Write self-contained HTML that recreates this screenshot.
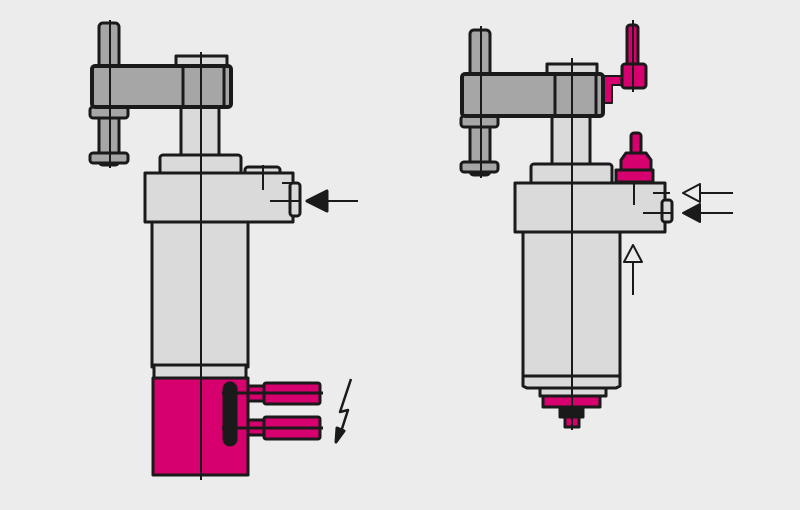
<!DOCTYPE html>
<html><head><style>html,body{margin:0;padding:0;background:#ececec}</style></head><body>
<svg width="800" height="505" viewBox="0 0 800 505" xmlns="http://www.w3.org/2000/svg">
<rect width="800" height="505" fill="#ececec"/>
<g stroke="#1a1a1a" stroke-width="3" stroke-linejoin="round">
<!-- LEFT FIGURE -->
<rect x="99" y="23" width="20" height="142" rx="4" fill="#a6a6a6"/>
<rect x="90" y="107" width="38" height="11" rx="3" fill="#a6a6a6"/>
<rect x="90" y="153" width="38" height="10" rx="3" fill="#a6a6a6"/>
<rect x="181" y="105" width="38" height="52" fill="#dadada"/>
<rect x="176" y="56" width="51" height="12" fill="#dadada"/>
<rect x="92" y="66" width="139" height="41" rx="3" fill="#a6a6a6" stroke-width="4"/>
<line x1="183" y1="66" x2="183" y2="107"/><line x1="224" y1="66" x2="224" y2="107"/>
<rect x="160" y="155" width="81" height="20" rx="3" fill="#dadada"/>
<rect x="245" y="167" width="35" height="8" rx="3" fill="#dadada"/>
<rect x="145" y="173" width="148" height="49" fill="#dadada"/>
<rect x="290" y="183" width="10" height="33" rx="3" fill="#dadada"/>
<rect x="152" y="222" width="96" height="145" fill="#dadada"/>
<rect x="154" y="365" width="92" height="13" fill="#dadada"/>
<rect x="153" y="378" width="95" height="97" fill="#d6006f"/>
<rect x="248" y="386" width="20" height="15" fill="#d6006f"/>
<rect x="264" y="383" width="56" height="21" rx="2" fill="#d6006f"/>
<rect x="248" y="420" width="20" height="15" fill="#d6006f"/>
<rect x="264" y="417" width="56" height="22" rx="2" fill="#d6006f"/>
<line x1="222" y1="393" x2="323" y2="393"/><line x1="222" y1="428" x2="323" y2="428"/>
<rect x="224" y="383" width="12" height="62" rx="6" fill="#1a1a1a"/>
<line x1="201" y1="52" x2="201" y2="480" stroke-width="2"/>
<line x1="110" y1="20" x2="110" y2="168" stroke-width="2"/>
<line x1="263" y1="165" x2="263" y2="190" stroke-width="2"/>
<line x1="270" y1="201" x2="300" y2="201" stroke-width="2"/>
<line x1="282" y1="183" x2="298" y2="183" stroke-width="2"/>
<line x1="327" y1="201" x2="358" y2="201" stroke-width="2"/>
<polygon points="307,201 327,191 327,211" fill="#1a1a1a"/>
<polyline points="351,379 340,412 348,410 339,438" fill="none" stroke-width="2.5"/>
<polygon points="336,442 337,428 344,431" fill="#1a1a1a"/>
<!-- RIGHT FIGURE -->
<rect x="470" y="30" width="20" height="145" rx="4" fill="#a6a6a6"/>
<rect x="461" y="116" width="37" height="11" rx="3" fill="#a6a6a6"/>
<rect x="461" y="162" width="37" height="10" rx="3" fill="#a6a6a6"/>
<rect x="552" y="114" width="38" height="52" fill="#dadada"/>
<rect x="547" y="64" width="50" height="12" fill="#dadada"/>
<path d="M600,76 H640 V85 H612 V103 H600 Z" fill="#d6006f" stroke-width="2"/>
<rect x="627" y="25" width="11" height="45" rx="3" fill="#d6006f"/>
<rect x="622" y="64" width="24" height="24" rx="3" fill="#d6006f"/>
<rect x="462" y="74" width="141" height="42" rx="3" fill="#a6a6a6" stroke-width="4"/>
<line x1="555" y1="74" x2="555" y2="116"/><line x1="596" y1="74" x2="596" y2="116"/>
<rect x="531" y="164" width="81" height="20" rx="3" fill="#dadada"/>
<rect x="631" y="133" width="10" height="22" rx="3" fill="#d6006f"/>
<path d="M621,180 V160 L626,153 H646 L651,160 V180 Z" fill="#d6006f"/>
<rect x="616" y="170" width="37" height="12" fill="#d6006f"/>
<rect x="515" y="183" width="150" height="49" fill="#dadada"/>
<rect x="662" y="200" width="10" height="22" rx="3" fill="#dadada"/>
<rect x="523" y="232" width="97" height="144" fill="#dadada"/>
<path d="M523,376 V386 L527,388 H616 L620,386 V376 Z" fill="#dadada"/>
<rect x="540" y="388" width="66" height="8" fill="#dadada"/>
<rect x="543" y="396" width="57" height="11" fill="#d6006f"/>
<rect x="560" y="407" width="23" height="10" fill="#1a1a1a"/>
<rect x="565" y="417" width="14" height="10" fill="#d6006f"/>
<line x1="572" y1="58" x2="572" y2="430" stroke-width="2"/>
<line x1="481" y1="26" x2="481" y2="178" stroke-width="2"/>
<line x1="633" y1="20" x2="633" y2="92" stroke-width="2"/>
<line x1="634" y1="182" x2="634" y2="205" stroke-width="2"/>
<line x1="643" y1="213" x2="672" y2="213" stroke-width="2"/>
<line x1="653" y1="193" x2="670" y2="193" stroke-width="2"/>
<line x1="700" y1="193" x2="733" y2="193" stroke-width="2"/>
<polygon points="683,193 700,184 700,202" fill="#ececec" stroke-width="2"/>
<line x1="700" y1="213" x2="733" y2="213" stroke-width="2"/>
<polygon points="683,213 700,204 700,222" fill="#1a1a1a" stroke-width="2"/>
<line x1="633" y1="262" x2="633" y2="295" stroke-width="2"/>
<polygon points="633,245 624,262 642,262" fill="#ececec" stroke-width="2"/>
</g>
</svg>
</body></html>
